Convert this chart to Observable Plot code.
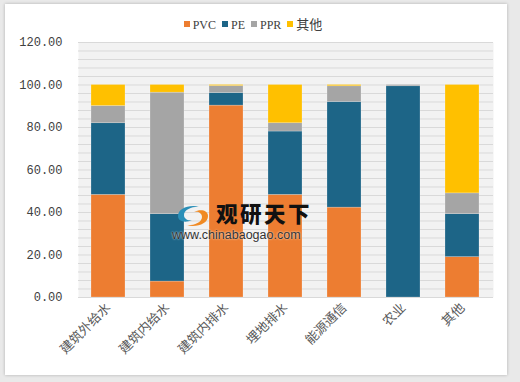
<!DOCTYPE html>
<html>
<head>
<meta charset="utf-8">
<script src="https://cdn.jsdelivr.net/npm/d3@7"></script>
<script src="https://cdn.jsdelivr.net/npm/@observablehq/plot@0.6"></script>
<style>
  html, body { margin: 0; padding: 0; }
  body { width: 520px; height: 382px; background: #e9e9e9; position: relative; overflow: hidden; font-family: "Liberation Serif", "Noto Sans CJK SC", serif; }
  #card { position: absolute; left: 5px; top: 4px; width: 502px; height: 371px; background: #fff; box-shadow: 0 0 3px rgba(0,0,0,0.25); }
  #chart { position: absolute; left: 0; top: 0; }
  #legend { position: absolute; left: 0; top: 14px; width: 506px; text-align: center; font-size: 12px; color: #404040; white-space: nowrap; }
  #legend span.item { display: inline-block; margin: 0 3px; }
  #legend span.sw { display: inline-block; width: 6px; height: 6px; margin-right: 3px; vertical-align: 2px; }
  #legend .cjk { font-family: "Noto Sans CJK SC", sans-serif; font-size: 13px; }
  #wm1 { position: absolute; left: 216px; top: 202px; font-family: "Noto Sans CJK SC", sans-serif; font-weight: 900; font-size: 21.5px; letter-spacing: 2.5px; color: #111; line-height: 1; }
  #wm2 { position: absolute; left: 172px; top: 229px; font-family: "Liberation Sans", Arial, sans-serif; font-size: 12.5px; color: #333; line-height: 1; text-shadow: 0 0 2px #fff; }
  #logo { position: absolute; left: 174px; top: 203px; }
</style>
</head>
<body>
<div id="card"></div>
<div id="chart"></div>
<div id="legend"></div>
<svg id="logo" width="38" height="26" viewBox="0 0 38 26">
  <path d="M4 13 C4 5, 16 1, 26 4 C20 3, 10 6, 10 12 C10 16, 14 18, 18 17 C12 20, 4 19, 4 13 Z" fill="#2a8fb8"/>
  <path d="M34 13 C34 21, 22 25, 12 22 C18 23, 28 20, 28 14 C28 10, 24 8, 20 9 C26 6, 34 7, 34 13 Z" fill="#f08a24"/>
</svg>
<div id="wm1">观研天下</div>
<div id="wm2">www.chinabaogao.com</div>
<script>
const categories = ["建筑外给水", "建筑内给水", "建筑内排水", "埋地排水", "能源通信", "农业", "其他"];
const seriesNames = ["PVC", "PE", "PPR", "其他"];
const seriesColors = ["#ED7D31", "#1D6587", "#A5A5A5", "#FFC000"];
const pvc   = [48.3,  7.5, 90.3, 48.3, 42.3,  0.0, 19.0];
const pe    = [33.7, 31.7,  5.9, 29.8, 49.7, 99.4, 20.2];
const ppr   = [ 8.1, 57.2,  3.3,  3.9,  7.4,  0.6,  9.8];
const other = [ 9.9,  3.6,  0.5, 18.0,  0.6,  0.0, 51.0];
const yTicks = [0, 20, 40, 60, 80, 100, 120];
const gridStep = 4;

const seriesValues = [pvc, pe, ppr, other];
const data = [];
seriesNames.forEach((s, si) => {
  categories.forEach((c, ci) => data.push({category: c, series: s, value: seriesValues[si][ci]}));
});

const chart = Plot.plot({
  width: 520,
  height: 382,
  marginTop: 42,
  marginBottom: 85,
  marginLeft: 78,
  marginRight: 27,
  style: {background: "transparent", fontFamily: "Liberation Mono, monospace", fontSize: "12px", color: "#595959"},
  x: {domain: categories, paddingInner: 0.42, paddingOuter: 0.21, label: null},
  y: {domain: [0, 120], label: null},
  color: {domain: seriesNames, range: seriesColors},
  marks: [
    Plot.frame({fill: "#f2f2f2", stroke: null}),
    Plot.ruleY(d3.range(0, 120 + gridStep, gridStep), {stroke: "#d9d9d9", strokeWidth: 1}),
    Plot.barY(data, {x: "category", y: "value", fill: "series", order: seriesNames, stroke: "#ffffff", strokeOpacity: 0.35, strokeWidth: 0.6}),
    Plot.axisY({ticks: yTicks, tickFormat: d => d.toFixed(2), tickSize: 0, tickPadding: 16, fontSize: 12, fill: "#404040"}),
    Plot.axisX({tickRotate: -45, tickSize: 0, tickPadding: 8, fontSize: 13, fontFamily: "Noto Sans CJK SC, sans-serif", fill: "#595959"})
  ]
});
document.getElementById("chart").appendChild(chart);

const legend = document.getElementById("legend");
seriesNames.forEach((s, i) => {
  const item = document.createElement("span");
  item.className = "item";
  const sw = document.createElement("span");
  sw.className = "sw";
  sw.style.background = seriesColors[i];
  const t = document.createElement("span");
  t.textContent = s;
  if (/[\u4e00-\u9fff]/.test(s)) t.className = "cjk";
  item.appendChild(sw);
  item.appendChild(t);
  legend.appendChild(item);
});
</script>
</body>
</html>
